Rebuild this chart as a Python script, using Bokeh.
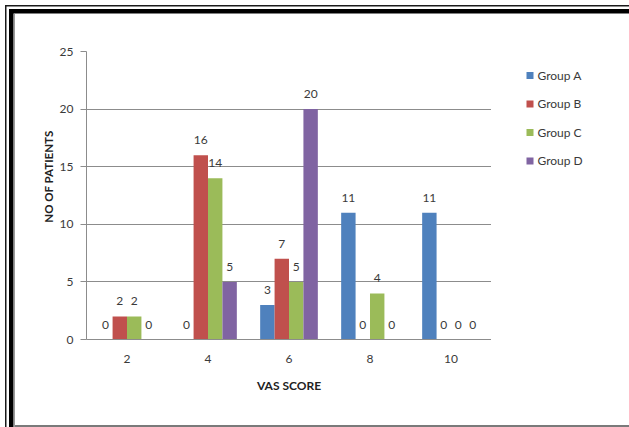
from bokeh.plotting import figure
from bokeh.models import FactorRange, Range1d, ColumnDataSource, Title
from bokeh.layouts import row
from bokeh.transform import dodge
from bokeh.core.properties import value
from bokeh.embed import file_html
from bokeh.resources import INLINE

# ---- data ----
categories = ["2", "4", "6", "8", "10"]
group_a = [0, 0, 3, 11, 11]
group_b = [2, 16, 7, 0, 0]
group_c = [2, 14, 5, 4, 0]
group_d = [0, 5, 20, 0, 0]
series_names = ["Group A", "Group B", "Group C", "Group D"]
y_ticks = [0, 5, 10, 15, 20, 25]

colors = ["#4F81BD", "#C0504D", "#9BBB59", "#8064A2"]
FONT = "Lato"
TXT = "#3a3a3a"
GRID = "#8c8c8c"

source = ColumnDataSource(dict(cat=categories, a=group_a, b=group_b, c=group_c, d=group_d))

p = figure(x_range=FactorRange(*categories, range_padding=0), y_range=Range1d(0, 25),
           width=491, height=427, output_backend="svg", toolbar_location=None,
           min_border_left=86, min_border_right=0, min_border_top=51, min_border_bottom=88)
p.border_fill_color = None
p.background_fill_color = "white"
p.outline_line_color = None

bw = 0.178
offsets = [-1.5 * bw, -0.5 * bw, 0.5 * bw, 1.5 * bw]
for key, col, off in zip(["a", "b", "c", "d"], colors, offsets):
    p.vbar(x=dodge("cat", off, range=p.x_range), top=key, width=bw, bottom=0,
           source=source, fill_color=col, line_color=None)
    p.text(x=dodge("cat", off, range=p.x_range), y=key, text=key, source=source,
           text_font=value(FONT), text_font_size="12px", text_color=TXT,
           text_align="center", text_baseline="middle", y_offset=-15)

p.xgrid.grid_line_color = None
p.ygrid.grid_line_color = GRID
p.yaxis.ticker = y_ticks

for ax in (p.xaxis, p.yaxis):
    ax.axis_line_color = GRID
    ax.major_label_text_font = FONT
    ax.major_label_text_font_size = "12px"
    ax.major_label_text_color = TXT
    ax.axis_label_text_font = FONT
    ax.axis_label_text_font_style = "bold"
    ax.axis_label_text_font_size = "12px"
    ax.axis_label_text_color = "#222222"
    ax.minor_tick_line_color = None

p.xaxis.axis_label = "VAS SCORE"
p.xaxis.major_tick_line_color = None
p.xaxis.major_tick_out = 0
p.xaxis.major_label_standoff = 15
p.xaxis.axis_label_standoff = 12

p.yaxis.major_tick_line_color = GRID
p.yaxis.major_tick_out = 6
p.yaxis.major_tick_in = 0
p.yaxis.major_label_standoff = 7

ytitle = Title(text="NO OF PATIENTS", align="right", offset=79, standoff=4,
               text_font=FONT, text_font_style="bold", text_font_size="11.5px",
               text_color="#222222")
p.add_layout(ytitle, "left")

# ---- legend panel (separate small figure; its frame aligns with the main frame) ----
leg_idx = list(range(len(series_names)))
leg_src = ColumnDataSource(dict(i=leg_idx, name=series_names, color=colors))
lg = figure(width=138, height=427, output_backend="svg", toolbar_location=None,
            x_range=Range1d(0, 138), y_range=Range1d(9.263, -0.842),
            min_border=0, min_border_left=0, min_border_right=0,
            min_border_top=0, min_border_bottom=0)
lg.axis.visible = False
lg.grid.grid_line_color = None
lg.outline_line_color = None
lg.border_fill_color = None
lg.background_fill_color = None
lg.scatter(x=38.5, y="i", source=leg_src, marker="square", size=7,
           fill_color="color", line_color=None)
lg.text(x=46, y="i", text="name", source=leg_src, text_font=value(FONT),
        text_font_size="12px", text_color=TXT, text_baseline="middle", text_align="left")

layout = row(p, lg, spacing=0)

def layer(color, x, y, w, h):
    return f"linear-gradient({color},{color}) {x}px {y}px / {w}px {h}px no-repeat"

layout.styles = {
    "background": ", ".join([
        layer("#1a1a1a", 5, 5, 624, 1.5),
        layer("#000000", 9, 9, 620, 4.5),
        layer("#1a1a1a", 5, 5, 1.5, 422),
        layer("#000000", 9, 9, 4.5, 418),
        layer("#9a9a9a", 14, 14, 1, 413),
        layer("#7a7a7a", 14, 425, 615, 2),
    ]) + ", white"
}

open("out.html", "w").write(file_html(layout, INLINE))
